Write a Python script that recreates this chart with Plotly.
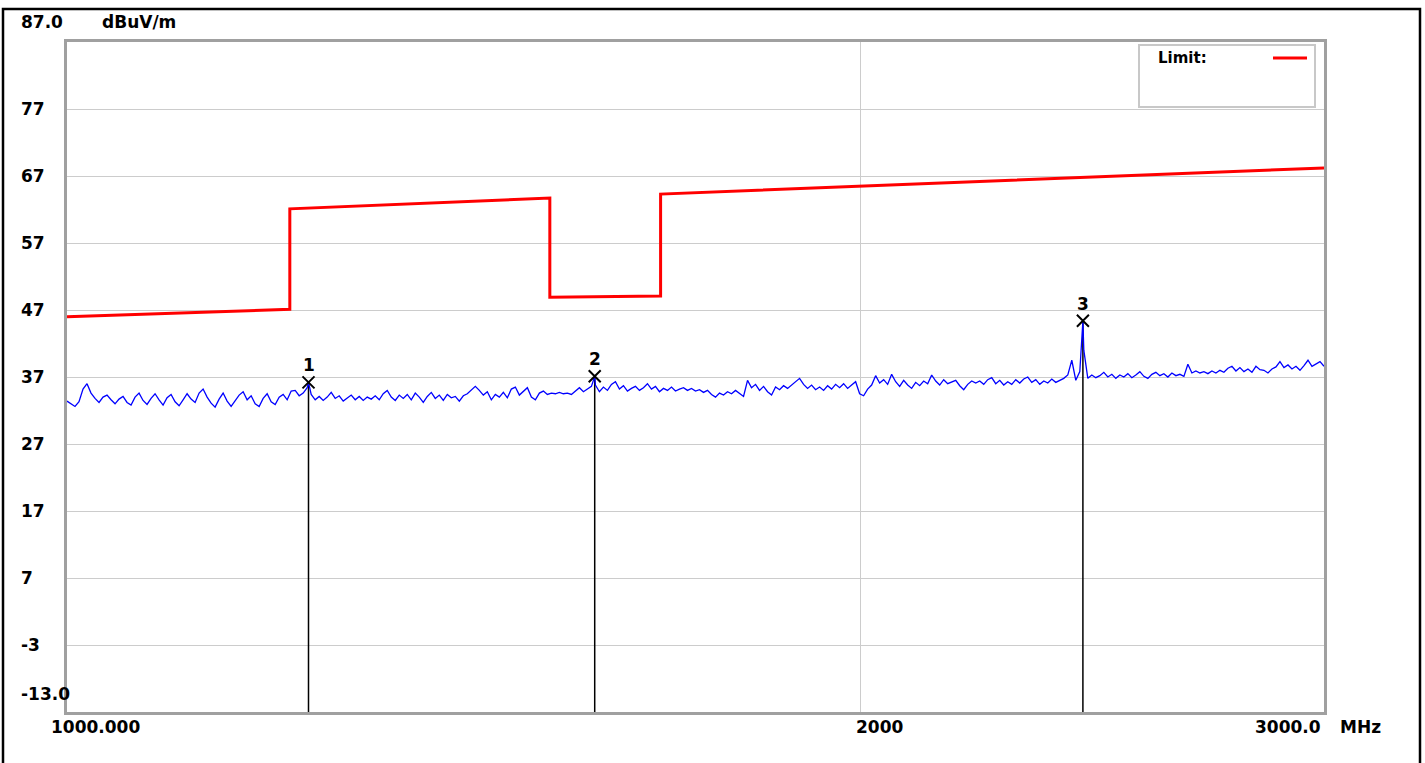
import numpy as np
import plotly.graph_objects as go

# ---------------- data ----------------
limit_freq = [1000, 1215, 1215, 1525, 1525, 1680, 1680, 3000]
limit_level = [46.0, 47.1, 62.1, 63.7, 48.9, 49.1, 64.3, 68.2]

trace_seg1 = [33.4, 33.0, 32.6, 33.3, 35.2, 36.0, 34.6, 33.8, 33.2, 34.0,
              34.3, 33.6, 33.0, 33.7, 34.1, 33.2, 32.8, 34.0, 34.6, 33.5,
              32.9, 33.8, 34.5, 33.6, 32.8, 33.9, 34.4, 33.3, 32.7, 33.6,
              34.5, 33.7, 33.2, 34.6, 35.2, 34.0, 33.1, 32.5, 33.7, 34.6,
              33.4, 32.6, 33.5, 34.3, 34.8, 33.6, 34.2, 33.0, 32.6, 33.8,
              34.5, 33.3, 32.9, 34.0, 34.4, 33.6, 34.9, 35.0, 34.2, 34.6,
              35.4]
trace_seg2 = [34.4, 33.6, 34.1, 33.5, 34.0, 34.7, 33.8, 34.2, 33.4, 33.9,
              34.3, 33.6, 34.1, 33.5, 34.0, 33.7, 34.2, 33.6, 34.5, 35.0,
              34.0, 33.5, 34.3, 33.8, 34.4, 33.6, 34.6, 34.0, 33.2, 34.1,
              34.7, 33.8, 34.3, 33.5, 34.4, 33.9, 34.1, 33.4, 34.2, 34.5,
              35.0, 35.6, 35.0, 34.3, 34.8, 33.6, 34.4, 34.0, 34.7, 33.9,
              35.2, 35.5, 34.3, 34.8, 35.4, 34.0, 33.6, 34.6, 34.9, 34.4,
              34.6, 34.5, 34.7, 34.5, 34.6, 34.4, 34.9, 35.4, 34.8, 35.2,
              35.6]
trace_seg3 = [35.8, 34.8, 35.5, 35.0, 35.9, 36.3, 35.2, 35.7, 34.9, 35.3,
              35.6, 35.0, 35.4, 36.0, 35.2, 35.6, 34.8, 35.3, 35.0, 35.5,
              34.9, 35.2, 35.4, 35.0, 35.3, 34.9, 35.1, 34.7, 35.0, 34.4,
              34.0, 34.6, 34.3, 34.8, 34.5, 35.0, 34.6, 34.1, 36.5, 35.4,
              35.9, 35.0, 35.6, 34.8, 34.3, 35.5, 35.1, 35.7, 35.3, 35.8,
              36.2, 36.8, 35.9, 35.3, 35.8, 35.1, 35.5, 35.0, 35.7, 35.2,
              35.9, 35.4, 36.0, 35.3, 35.8, 36.3]
trace_seg4 = [34.5, 34.2, 35.2, 35.8, 37.2, 36.1, 36.6, 35.9, 37.4, 36.3,
              35.6, 36.5, 35.8, 35.3, 36.2, 35.7, 36.4, 36.0, 37.3, 36.4,
              35.8, 36.6, 36.0, 36.2, 36.5, 35.7, 35.1, 35.9, 36.4, 36.1,
              36.4, 35.9, 36.6, 36.9, 36.0, 36.5, 35.8, 36.3, 35.9, 36.6,
              36.1, 36.7, 37.0, 36.2, 36.6, 35.9, 36.4, 36.1, 36.7, 36.2,
              36.5, 36.8, 37.3, 39.5, 36.5, 37.8]
trace_seg5 = [41.0,
              36.8, 37.3, 36.9, 37.2, 37.7, 37.0, 37.4, 36.8, 37.3, 37.0,
              37.5, 36.9, 37.3, 37.8, 37.1, 36.8, 37.4, 37.7, 37.2, 37.5,
              37.0, 37.6, 37.2, 37.4, 37.1, 38.9, 37.6, 37.9, 37.6, 37.8,
              37.5, 37.9, 37.6, 38.0, 37.7, 38.3, 38.6, 37.9, 38.4, 37.8,
              38.2, 37.7, 38.6, 38.1, 38.0, 37.6, 38.2, 38.5, 39.3, 38.4,
              38.8, 38.2, 38.6, 38.0, 38.7, 39.5, 38.6, 38.9, 39.3, 38.6]

marker_freq = [1235, 1586, 2430]
marker_level = [36.2, 37.1, 45.4]
marker_label = ["1", "2", "3"]

y_tick_vals = [87, 77, 67, 57, 47, 37, 27, 17, 7, -3, -13]
y_tick_text = ["87.0", "77", "67", "57", "47", "37", "27", "17", "7", "-3", "-13.0"]
x_tick_vals = [1000, 2000, 3000]
x_tick_text = ["1000.000", "2000", "3000.0"]
y_unit = "dBuV/m"
x_unit = "MHz"
legend_name = "Limit:"

# ---------------- layout geometry ----------------
W, H = 1425, 763
ML, MR, MT, MB = 67, 101, 42, 51
PW, PH = W - ML - MR, H - MT - MB


def px(xp):
    return (xp - ML) / PW


def py(yp):
    return (H - MB - yp) / PH


FONT = "DejaVu Sans"
bold = dict(family=FONT, size=17, color="black", weight="bold")

# ---------------- build traces ----------------
trace_level = trace_seg1 + trace_seg2 + trace_seg3 + trace_seg4 + trace_seg5
grid_freq = np.geomspace(1000, 3000, len(trace_level))
all_f = np.concatenate([grid_freq, np.array(marker_freq, float)])
all_v = np.concatenate([np.array(trace_level), np.array(marker_level)])
order = np.argsort(all_f, kind="stable")
all_f, all_v = all_f[order], all_v[order]

y_min, y_max = min(y_tick_vals), max(y_tick_vals)

fig = go.Figure()

fig.add_trace(go.Scatter(x=limit_freq, y=limit_level, mode="lines",
                         line=dict(color="#ff0000", width=3), hoverinfo="skip"))

vx, vy = [], []
for f, v in zip(marker_freq, marker_level):
    vx += [f, f, None]
    vy += [v, y_min, None]
fig.add_trace(go.Scatter(x=vx, y=vy, mode="lines",
                         line=dict(color="black", width=1.5), hoverinfo="skip"))

fig.add_trace(go.Scatter(x=all_f, y=all_v, mode="lines",
                         line=dict(color="#0000ff", width=1.3), hoverinfo="skip"))

fig.add_trace(go.Scatter(x=marker_freq, y=marker_level, mode="markers",
                         marker=dict(symbol="x-thin", size=12, color="black",
                                     line=dict(color="black", width=2)),
                         hoverinfo="skip"))

annotations = []
for f, v, t in zip(marker_freq, marker_level, marker_label):
    annotations.append(dict(x=np.log10(f), y=v, xref="x", yref="y", text=t,
                            showarrow=False, xanchor="center", yanchor="middle",
                            yshift=17, font=bold))

for v, t in zip(y_tick_vals, y_tick_text):
    shift = 0
    if v == y_max:
        shift = 20
    elif v == y_min:
        shift = 18
    annotations.append(dict(x=0, xref="paper", y=v, yref="y", text=t,
                            showarrow=False, xanchor="left", yanchor="middle",
                            xshift=-48, yshift=shift, font=bold))

annotations.append(dict(x=0, xref="paper", y=y_max, yref="y", text=y_unit,
                        showarrow=False, xanchor="left", yanchor="middle",
                        xshift=33, yshift=20, font=bold))

x_anchor = ["left", "left", "right"]
x_shift = [-18, -6, -1]
for v, t, a, s in zip(x_tick_vals, x_tick_text, x_anchor, x_shift):
    annotations.append(dict(x=np.log10(v), xref="x", y=0, yref="paper", text=t,
                            showarrow=False, xanchor=a, yanchor="middle",
                            xshift=s, yshift=-15, font=bold))
annotations.append(dict(x=1, xref="paper", y=0, yref="paper", text=x_unit,
                        showarrow=False, xanchor="left", yanchor="middle",
                        xshift=14, yshift=-15, font=bold))

annotations.append(dict(x=px(1156), xref="paper", y=py(58), yref="paper",
                        text=legend_name, showarrow=False, xanchor="left",
                        yanchor="middle", font=dict(family=FONT, size=15,
                                                     color="black", weight="bold")))

shapes = [
    # outer black frame
    dict(type="rect", xref="paper", yref="paper", x0=px(3), x1=px(1420),
         y0=py(800), y1=py(9), line=dict(color="black", width=2.5),
         fillcolor="rgba(0,0,0,0)", layer="below"),
    # legend box
    dict(type="rect", xref="paper", yref="paper", x0=px(1139), x1=px(1315),
         y0=py(107), y1=py(45), line=dict(color="#c8c8c8", width=2),
         fillcolor="white", layer="above"),
    dict(type="line", xref="paper", yref="paper", x0=px(1273), x1=px(1307),
         y0=py(58), y1=py(58), line=dict(color="#ff0000", width=3)),
]

fig.update_layout(
    width=W, height=H,
    margin=dict(l=ML, r=MR, t=MT, b=MB, pad=0),
    paper_bgcolor="white", plot_bgcolor="white",
    showlegend=False,
    annotations=annotations,
    shapes=shapes,
    font=dict(family=FONT),
)
fig.update_xaxes(type="log", range=[np.log10(1000), np.log10(3000)],
                 tickvals=[2000], showticklabels=False, ticks="",
                 showgrid=True, gridcolor="#cccccc", gridwidth=1,
                 showline=True, linecolor="#a0a0a0", linewidth=3, mirror=True,
                 zeroline=False, fixedrange=True)
fig.update_yaxes(range=[y_min, y_max], tickvals=y_tick_vals[1:-1],
                 showticklabels=False, ticks="",
                 showgrid=True, gridcolor="#cccccc", gridwidth=1,
                 showline=True, linecolor="#a0a0a0", linewidth=3, mirror=True,
                 zeroline=False, fixedrange=True)

fig.write_html("out.html", config={"displayModeBar": False},
               post_script="document.body.style.margin='0px';"
                           "document.body.style.overflow='hidden';")
